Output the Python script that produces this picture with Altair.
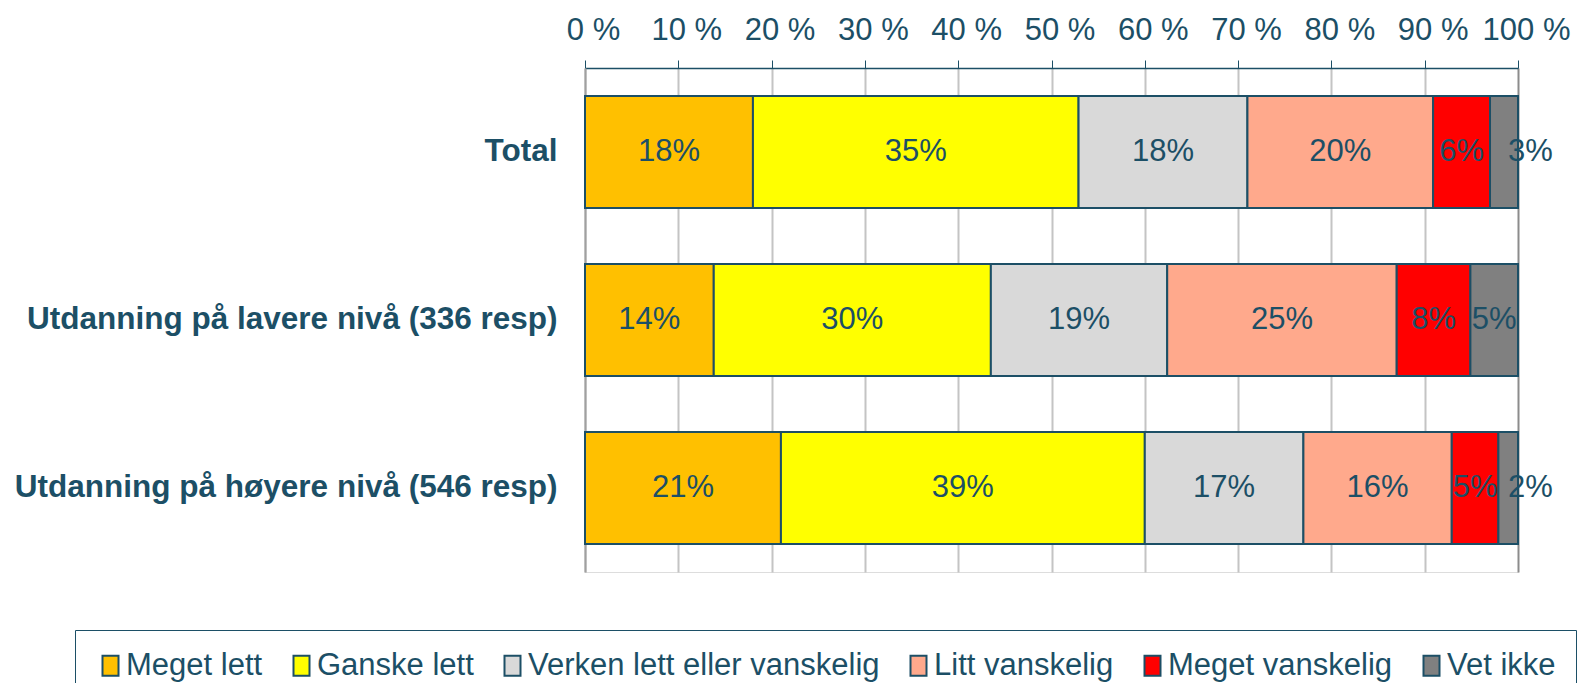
import altair as alt
import pandas as pd

groups = ["Total", "Utdanning på lavere nivå (336 resp)", "Utdanning på høyere nivå (546 resp)"]
categories = ["Meget lett", "Ganske lett", "Verken lett eller vanskelig", "Litt vanskelig", "Meget vanskelig", "Vet ikke"]
colors = ["#FFC000", "#FFFF00", "#D9D9D9", "#FFA98C", "#FF0000", "#808080"]

total_vals = [18.0, 34.9, 18.1, 19.9, 6.1, 3.0]
lavere_vals = [13.8, 29.7, 18.9, 24.6, 7.9, 5.1]
hoyere_vals = [21.0, 39.0, 17.0, 15.9, 5.0, 2.1]

rows = []
for g, vals in zip(groups, [total_vals, lavere_vals, hoyere_vals]):
    for i, (c, v) in enumerate(zip(categories, vals)):
        rows.append({"group": g, "category": c, "order": i, "value": v})
df = pd.DataFrame(rows)

TEAL = "#1C4F66"
FONT = "Liberation Sans"
FS = 31

base = alt.Chart(df).transform_joinaggregate(
    tot="sum(value)", groupby=["group"]
).transform_calculate(
    frac="datum.value / datum.tot"
).transform_stack(
    stack="frac", groupby=["group"], as_=["f0", "f1"],
    sort=[alt.SortField("order", order="ascending")]
).transform_calculate(
    mid="(datum.f0 + datum.f1) / 2",
    label="format(datum.frac, '.0%')",
    narrow="datum.order == 5 && datum.frac < 0.04"
)

xscale = alt.Scale(domain=[0, 1], nice=False, zero=True)
yscale = alt.Scale(domain=groups, paddingInner=0.333, paddingOuter=0.1667)

rect_path = "M-0.8,-1L0.8,-1L0.8,1L-0.8,1Z"

bars = base.mark_bar(stroke=TEAL, strokeWidth=2).encode(
    x=alt.X("f0:Q", scale=xscale, axis=alt.Axis(
        orient="top", title=None, values=[i / 10 for i in range(11)],
        labelExpr="round(datum.value * 100) + ' %'",
        labelFont=FONT, labelFontSize=FS, labelColor=TEAL, labelOverlap=False,
        labelFlush=False,
        labelPadding=14, labelOffset=8, tickSize=8, tickColor=TEAL, domainColor=TEAL,
        domainWidth=1.5, tickWidth=1,
        grid=True, gridWidth=2,
        gridColor={"condition": {"test": "datum.value === 1", "value": "#8C8C8C"}, "value": "#C4C4C4"},
    )),
    x2="f1:Q",
    y=alt.Y("group:N", scale=yscale, sort=groups, axis=alt.Axis(
        title=None, labelFont=FONT, labelFontSize=31.5, labelFontWeight="bold",
        labelColor=TEAL, labelLimit=900, labelPadding=28, ticks=False,
        domainColor="#A0A0A0", domainWidth=2,
    )),
    color=alt.Color("category:N", scale=alt.Scale(domain=categories, range=colors),
                    sort=categories,
                    legend=alt.Legend(
                        title=None, orient="none", legendX=-510, legendY=562,
                        direction="horizontal", columns=6,
                        labelFont=FONT, labelFontSize=FS, labelColor=TEAL,
                        symbolType=rect_path, symbolSize=400, symbolStrokeColor=TEAL,
                        symbolStrokeWidth=2, symbolOpacity=1,
                        columnPadding=23, labelOffset=0, labelLimit=600,
                        strokeColor=TEAL, padding=20, offset=0,
                    )),
    order=alt.Order("order:Q"),
)

texts = base.transform_filter("!datum.narrow").mark_text(font=FONT, fontSize=FS, color=TEAL).encode(
    x=alt.X("mid:Q", scale=xscale),
    y=alt.Y("group:N", scale=yscale, sort=groups),
    text="label:N",
)

texts_narrow = base.transform_filter("datum.narrow").mark_text(
    font=FONT, fontSize=FS, color=TEAL, align="left", dx=-10
).encode(
    x=alt.X("f1:Q", scale=xscale),
    y=alt.Y("group:N", scale=yscale, sort=groups),
    text="label:N",
)

chart = alt.layer(bars, texts, texts_narrow).properties(
    width=933, height=504,
    autosize=alt.AutoSizeParams(type="none"),
    padding={"left": 577, "top": 60, "right": 59, "bottom": 111},
).configure_view(stroke=None).configure(background="white")

chart.save("out.html", embed_options={"renderer": "svg", "actions": False})
